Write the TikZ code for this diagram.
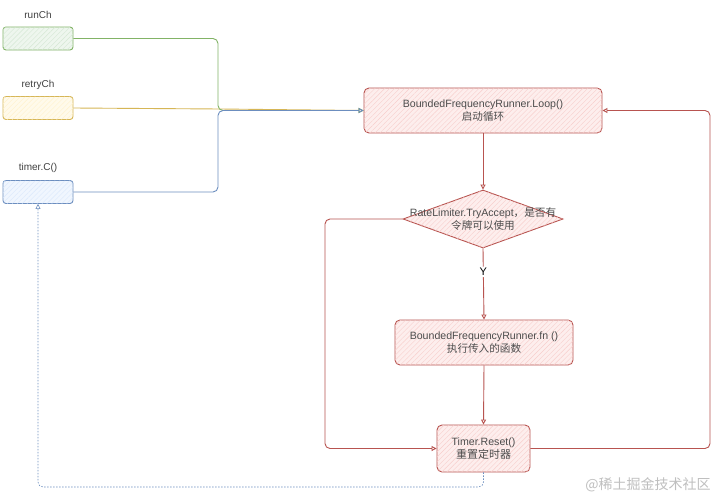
\documentclass[tikz,border=0pt]{standalone}
\usepackage{fontspec}
\setmainfont{Liberation Sans}
\newfontfamily\cjk{Noto Sans CJK SC}
\usetikzlibrary{arrows.meta,shapes.geometric,patterns.meta}
\definecolor{gS}{HTML}{82B366}\definecolor{gF}{HTML}{D5E8D4}
\definecolor{yS}{HTML}{D6B656}\definecolor{yF}{HTML}{FFF2CC}
\definecolor{bS}{HTML}{6C8EBF}\definecolor{bF}{HTML}{DAE8FC}
\definecolor{rS}{HTML}{B85450}\definecolor{rF}{HTML}{F8CECC}
\tikzset{
  hatch/.style 2 args={fill=#1, postaction={pattern={Lines[angle=45,distance=3.5pt,line width=0.4pt]}, pattern color=#2}},
  chbox/.style={draw, line width=0.9pt, rounded corners=3pt, minimum width=70pt, minimum height=23pt, inner sep=0pt},
  rbox/.style={draw=rS, line width=0.9pt, rounded corners=5pt, hatch={rF!35}{rF}, inner sep=0pt, align=center,
    font=\fontsize{10.6}{13.5}\selectfont, text=black!70},
  decision/.style={diamond, draw=rS, line width=0.9pt, hatch={rF!35}{rF}, minimum width=160pt, minimum height=58pt, inner sep=0pt},
  txt/.style={align=center, font=\fontsize{10.6}{13.5}\selectfont, text=black!70, inner sep=0pt},
  lbl/.style={font=\fontsize{10}{12}\selectfont, text=black!75},
  tip/.style={-{Triangle[open,length=5pt,width=5pt]}},
  conn/.style={line width=0.9pt, rounded corners=5pt},
  rarr/.style={conn, tip, draw=rS},
  ylab/.style={fill=white, font=\fontsize{11}{12}\selectfont, inner sep=1.5pt},
}
\begin{document}
\begin{tikzpicture}[x=1pt,y=-1pt]
\useasboundingbox (0,0) rectangle (720,498);
\fill[white] (0,0) rectangle (720,498);
% channel boxes
\node[lbl] (runL) at (38,15) {runCh};
\node[chbox, draw=gS, hatch={gF!40}{gF}] (run) at (38,38.5) {};
\node[lbl] (retL) at (38,85) {retryCh};
\node[chbox, draw=yS, hatch={yF!40}{yF}] (retry) at (38,108) {};
\node[lbl] (tcL) at (38,168) {timer.C()};
\node[chbox, draw=bS, hatch={bF!40}{bF}] (tc) at (38,192) {};
% flow nodes
\node[rbox, minimum width=238pt, minimum height=45pt] (loop) at (483,110.5) {BoundedFrequencyRunner.Loop()\\{\cjk 启动循环}};
\node[decision] (dec) at (483,219) {};
\node[txt] (dect) at (483,219) {RateLimiter.TryAccept{\cjk ，是否有}\\{\cjk 令牌可以使用}};
\node[rbox, minimum width=178pt, minimum height=45pt] (fn) at (484,342.5) {BoundedFrequencyRunner.fn ()\\{\cjk 执行传入的函数}};
\node[rbox, minimum width=93pt, minimum height=47pt] (timer) at (483.5,448.5) {Timer.Reset()\\{\cjk\fontsize{11}{13.5}\selectfont 重置定时器}};
% inputs to loop
\draw[conn, tip, draw=yS] (retry.east) -- (220,109) -- (loop.west);
\draw[conn, tip, draw=gS] (run.east) -- (218,38.5) -- (218,110.5) -- (loop.west);
\draw[conn, tip, draw=bS] (tc.east) -- (218,192) -- (218,110.5) -- (loop.west);
% main flow
\draw[rarr] (loop.south) -- (dec.north);
\draw[rarr] (dec.south) -- node[ylab, pos=0.33] (y) {Y} (fn.north);
\draw[rarr] (fn.south) -- (timer.north);
\draw[rarr] (dec.west) -- (325,219) -- (325,448.5) -- (timer.west);
\draw[rarr] (timer.east) -- (710,448.5) -- (710,110.5) -- (loop.east);
\draw[conn, tip, draw=bS, line width=0.6pt, dash pattern=on 1.5pt off 1.5pt] (timer.south) -- (483.5,487) -- (38,487) -- (tc.south);
% watermark
\node[font=\cjk\fontsize{14}{16}\selectfont, text=black!25] (wm) at (648,485) {@稀土掘金技术社区};
\end{tikzpicture}
\end{document}
